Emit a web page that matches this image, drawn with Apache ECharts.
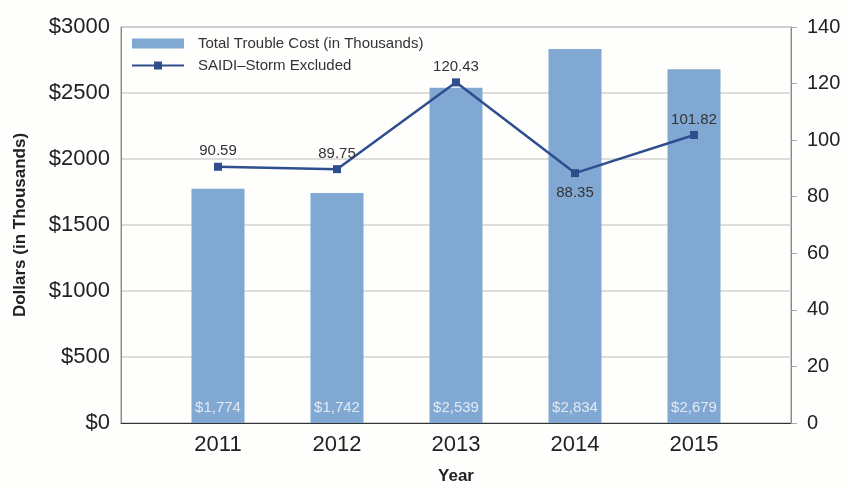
<!DOCTYPE html>
<html>
<head>
<meta charset="utf-8">
<title>Trouble Cost and SAIDI</title>
<script src="https://cdn.jsdelivr.net/npm/echarts@6/dist/echarts.min.js"></script>
<style>
  html, body { margin: 0; padding: 0; background: #fefefc; }
  #chart { width: 850px; height: 490px; }
</style>
</head>
<body>
<div id="chart"></div>
<script>
// Yearly trouble cost (thousands of dollars) and SAIDI with storms excluded
const years = ['2011', '2012', '2013', '2014', '2015'];
const troubleCost = [1774, 1742, 2539, 2834, 2679];
const saidi = [90.59, 89.75, 120.43, 88.35, 101.82];
const costTicks = { min: 0, max: 3000, interval: 500 };
const saidiTicks = { min: 0, max: 140, interval: 20 };

const FONT = '"Liberation Sans", Arial, Helvetica, sans-serif';
const BAR_COLOR = '#80a8d2';
const LINE_COLOR = '#2e4e8e';

const chart = echarts.init(document.getElementById('chart'));

// outer frame spans the full plot; the data grid is inset so the
// category bands sit where the year columns are drawn
const frame = { left: 121, right: 59, top: 27, bottom: 67 };
const dataGrid = { left: 158.5, right: 96.5, top: 27, bottom: 67 };

chart.setOption({
  backgroundColor: '#fefefc',
  textStyle: { fontFamily: FONT },
  animation: false,
  legend: {
    orient: 'vertical',
    left: 126,
    top: 31,
    itemWidth: 52,
    itemHeight: 10,
    itemGap: 7,
    textStyle: { fontFamily: FONT, fontSize: 15, color: '#333', padding: [0, 0, 0, 9] },
    data: [
      { name: 'Total Trouble Cost (in Thousands)', icon: 'rect' },
      { name: 'SAIDI–Storm Excluded' }
    ]
  },
  grid: [
    Object.assign({ show: true, borderColor: '#999', borderWidth: 1, backgroundColor: 'transparent' }, frame),
    Object.assign({}, dataGrid)
  ],
  xAxis: [
    {
      // frame axis: bottom line and title only
      gridIndex: 0, type: 'value', min: 0, max: 1,
      axisLine: { show: true, lineStyle: { color: '#333', width: 1 } },
      axisTick: { show: false }, axisLabel: { show: false }, splitLine: { show: false },
      name: 'Year', nameLocation: 'middle', nameGap: 45,
      nameTextStyle: { fontFamily: FONT, fontSize: 17, fontWeight: 'bold', color: '#222' }
    },
    {
      gridIndex: 1, type: 'category', data: years,
      axisLine: { show: false }, axisTick: { show: false },
      axisLabel: { fontFamily: FONT, fontSize: 22, color: '#222', margin: 11 }
    }
  ],
  yAxis: [
    {
      gridIndex: 0, type: 'value',
      min: costTicks.min, max: costTicks.max, interval: costTicks.interval,
      axisLine: { show: true, lineStyle: { color: '#888' } },
      axisTick: { show: false },
      axisLabel: { fontFamily: FONT, fontSize: 22, color: '#222', margin: 11, formatter: v => '$' + v },
      splitLine: { show: true, lineStyle: { color: '#d2d2d2', width: 1.5 } },
      name: 'Dollars (in Thousands)', nameLocation: 'middle', nameGap: 92,
      nameTextStyle: { fontFamily: FONT, fontSize: 17, fontWeight: 'bold', color: '#222' }
    },
    {
      gridIndex: 0, type: 'value', position: 'right',
      min: saidiTicks.min, max: saidiTicks.max, interval: saidiTicks.interval,
      axisLine: { show: true, lineStyle: { color: '#888' } },
      axisTick: { show: true, length: 6, lineStyle: { color: '#aaa' } },
      axisLabel: { fontFamily: FONT, fontSize: 20, color: '#222', margin: 16 },
      splitLine: { show: false }
    },
    {
      gridIndex: 1, type: 'value',
      min: costTicks.min, max: costTicks.max,
      show: false
    },
    {
      gridIndex: 1, type: 'value',
      min: saidiTicks.min, max: saidiTicks.max,
      show: false
    }
  ],
  series: [
    {
      name: 'Total Trouble Cost (in Thousands)',
      type: 'bar',
      xAxisIndex: 1, yAxisIndex: 2,
      data: troubleCost,
      barWidth: 53,
      itemStyle: { color: BAR_COLOR },
      label: {
        show: true, position: 'insideBottom', distance: 8,
        fontFamily: FONT, fontSize: 15, color: '#e2e9f3',
        formatter: p => '$' + p.value.toLocaleString('en-US')
      }
    },
    {
      name: 'SAIDI–Storm Excluded',
      type: 'line',
      xAxisIndex: 1, yAxisIndex: 3,
      data: saidi.map((v, i) => ({
        value: v,
        label: { position: i === 3 ? 'bottom' : 'top', distance: i === 3 ? 8 : 4 }
      })),
      symbol: 'rect', symbolSize: 8,
      lineStyle: { color: LINE_COLOR, width: 2.5 },
      itemStyle: { color: LINE_COLOR },
      label: {
        show: true, fontFamily: FONT, fontSize: 15, color: '#333',
        formatter: p => p.value.toFixed(2)
      },
      z: 5
    }
  ]
});
</script>
</body>
</html>
